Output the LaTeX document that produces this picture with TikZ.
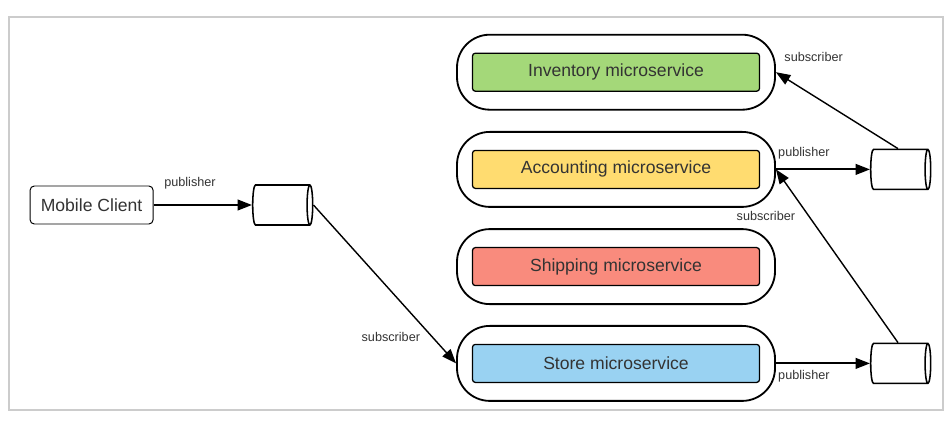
\documentclass[tikz,border=0pt]{standalone}
\usepackage{fontspec}
\setmainfont{Liberation Sans}
\usetikzlibrary{arrows.meta,shapes.geometric}

\definecolor{invgreen}{HTML}{A4D879}
\definecolor{accyellow}{HTML}{FFDC70}
\definecolor{shipred}{HTML}{F98B7D}
\definecolor{storeblue}{HTML}{99D2F2}
\definecolor{txtgray}{HTML}{333333}

\begin{document}
\begin{tikzpicture}[
        outerbox/.style={draw,line width=1.3pt,rounded corners=0.82cm,minimum width=7.95cm,minimum height=1.875cm},
        service/.style={draw,line width=0.9pt,rounded corners=2pt,minimum width=7.175cm,minimum height=0.95cm,text=txtgray,font=\fontsize{12.5}{15}\selectfont},
        queue/.style={draw,cylinder,shape aspect=0.6,line width=1.1pt,minimum height=1.5cm,minimum width=1cm},
        wire/.style={line width=1.3pt,-{Triangle[length=0.36cm,width=0.27cm]}},
        tag/.style={font=\fontsize{9}{11}\selectfont,text=txtgray,inner sep=1pt}
    ]
        \useasboundingbox (0,0) rectangle (23.675,10.525);
        \draw[gray!40,line width=0.8pt] (0.225,0.275) rectangle (23.575,10.1);

        \node[draw,line width=0.7pt,rounded corners=3pt,minimum width=3.075cm,minimum height=0.95cm,text=txtgray,font=\fontsize{12.5}{15}\selectfont] (client) at (2.29,5.4) {Mobile Client};
        \node[queue] (q1) at (7.0,5.4) {};
        \node[queue] (q2) at (22.45,6.29) {};
        \node[queue] (q3) at (22.45,1.44) {};

        % the four services, each in its own container
        \foreach \name/\svc/\col/\y in {inv/Inventory/invgreen/8.72, acc/Accounting/accyellow/6.29, ship/Shipping/shipred/3.86, store/Store/storeblue/1.44} {
            \node[outerbox] (\name) at (15.4,\y) {};
            \node[service,fill=\col] (\name-in) at (15.4,\y) {\svc\ microservice};
        }

        \draw[wire] (client) -- (q1) node[tag,pos=0.37,anchor=south,yshift=0.35cm] (pub1) {publisher};
        \draw[wire,line width=1pt] (q1.east) -- (store.west) node[tag,pos=0.79,anchor=north east,xshift=-0.1cm] (sub1) {subscriber};
        \draw[wire] (acc.east) -- (q2.west) node[tag,pos=0,anchor=south west,yshift=0.2cm] (pub2) {publisher};
        \draw[wire] (store.east) -- (q3.west) node[tag,pos=0,anchor=north west,yshift=-0.12cm] (pub3) {publisher};
        \draw[wire,line width=1pt] (q2.north) -- (inv.east) node[tag,pos=1,anchor=south west,xshift=0.16cm,yshift=0.21cm] (sub2) {subscriber};
        \draw[wire,line width=1pt] (q3.north) -- (acc.east) node[tag,pos=0.77,anchor=north east,xshift=-0.17cm] (sub3) {subscriber};
    \end{tikzpicture}
\end{document}
